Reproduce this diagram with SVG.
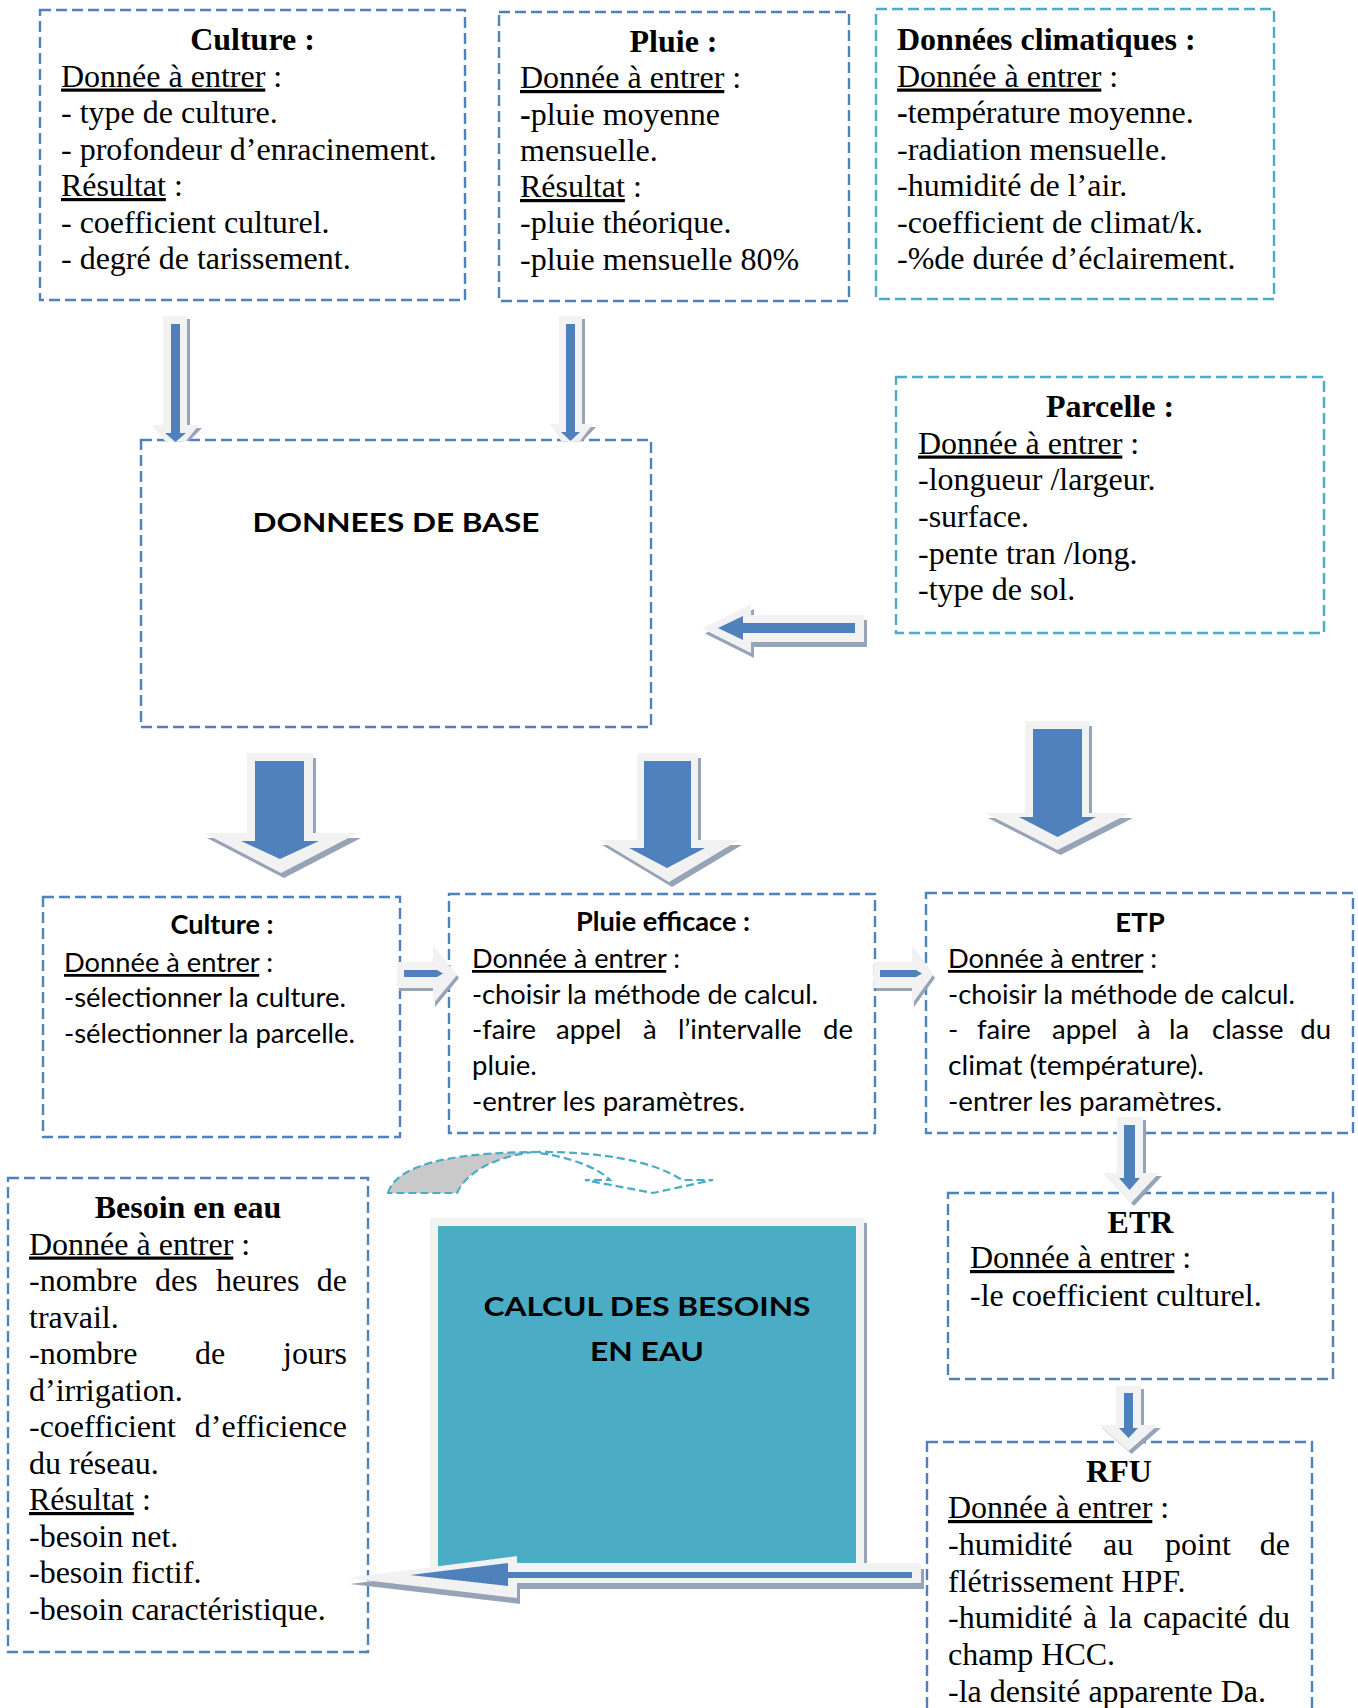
<svg xmlns="http://www.w3.org/2000/svg" width="1358" height="1708" viewBox="0 0 1358 1708">
<defs>
<style>
.box{fill:none;stroke:#4f81bd;stroke-width:2.4;stroke-dasharray:11 5}
.teal{stroke:#4bacc6}
.tr{font-family:"Liberation Serif","Times New Roman",serif;font-size:32px;fill:#000}
.ca{font-family:Lato,"Liberation Sans",sans-serif;font-size:27.5px;fill:#000}
.b{font-weight:bold}
.u{text-decoration:underline}
.mid{text-anchor:middle}
.end{text-anchor:end}
.lt{fill:#f2f2f2}
.bl{fill:#4f81bd}
.sh{fill:#97a3b6}
.curve{stroke:#4bacc6;stroke-width:2.2;stroke-dasharray:8 4}
</style>
</defs>
<rect x="0" y="0" width="1358" height="1708" fill="#ffffff"/>

<g id="culture-input">
<rect class="box" x="40" y="10" width="425" height="290"/>
<text class="tr b mid" x="252.5" y="50">Culture :</text>
<text class="tr" x="61" y="86.5"><tspan class="u">Donnée à entrer</tspan> :</text>
<text class="tr" x="61" y="123">- type de culture.</text>
<text class="tr" x="61" y="159.5">- profondeur d’enracinement.</text>
<text class="tr" x="61" y="196"><tspan class="u">Résultat</tspan> :</text>
<text class="tr" x="61" y="232.5">- coefficient culturel.</text>
<text class="tr" x="61" y="269">- degré de tarissement.</text>
</g>

<g id="pluie-input">
<rect class="box" x="499" y="12" width="350" height="289"/>
<text class="tr b mid" x="673.5" y="52">Pluie :</text>
<text class="tr" x="520" y="88"><tspan class="u">Donnée à entrer</tspan> :</text>
<text class="tr" x="520" y="124.5"><tspan class="b">-</tspan>pluie moyenne</text>
<text class="tr" x="520" y="160.5">mensuelle.</text>
<text class="tr" x="520" y="197"><tspan class="u">Résultat</tspan> :</text>
<text class="tr" x="520" y="233">-pluie théorique.</text>
<text class="tr" x="520" y="269.5">-pluie mensuelle 80%</text>
</g>

<g id="donnees-climatiques">
<rect class="box teal" x="876" y="9" width="398" height="290"/>
<text class="tr b" x="897" y="50">Données climatiques :</text>
<text class="tr" x="897" y="86.5"><tspan class="u">Donnée à entrer</tspan> :</text>
<text class="tr" x="897" y="123"><tspan class="b">-</tspan>température moyenne.</text>
<text class="tr" x="897" y="159.5">-radiation mensuelle.</text>
<text class="tr" x="897" y="196">-humidité de l’air.</text>
<text class="tr" x="897" y="232.5">-coefficient de climat/k.</text>
<text class="tr" x="897" y="269">-%de durée d’éclairement.</text>
</g>

<g id="donnees-de-base">
<rect class="box" x="141" y="440" width="510" height="287"/>
<text class="ca b mid" x="396" y="532" font-size="33" textLength="287" lengthAdjust="spacingAndGlyphs">DONNEES DE BASE</text>
</g>

<g id="parcelle">
<rect class="box teal" x="896" y="377" width="428" height="256"/>
<text class="tr b mid" x="1110" y="417">Parcelle :</text>
<text class="tr" x="918" y="453.5"><tspan class="u">Donnée à entrer</tspan> :</text>
<text class="tr" x="918" y="490">-longueur /largeur.</text>
<text class="tr" x="918" y="527">-surface.</text>
<text class="tr" x="918" y="563.5">-pente tran /long.</text>
<text class="tr" x="918" y="600">-type de sol.</text>
</g>

<g id="culture-selection">
<rect class="box" x="43" y="897" width="357" height="240"/>
<text class="ca b mid" x="222" y="934" textLength="103" lengthAdjust="spacingAndGlyphs">Culture :</text>
<text class="ca" x="64" y="972" textLength="209" lengthAdjust="spacingAndGlyphs"><tspan class="u">Donnée à entrer</tspan> :</text>
<text class="ca" x="64" y="1007" textLength="282" lengthAdjust="spacingAndGlyphs">-sélectionner la culture.</text>
<text class="ca" x="64" y="1043" textLength="291" lengthAdjust="spacingAndGlyphs">-sélectionner la parcelle.</text>
</g>

<g id="pluie-efficace">
<rect class="box" x="449" y="894" width="426" height="239"/>
<text class="ca b mid" x="663" y="931" textLength="174" lengthAdjust="spacingAndGlyphs">Pluie efficace :</text>
<text class="ca" x="472" y="968" textLength="208" lengthAdjust="spacingAndGlyphs"><tspan class="u">Donnée à entrer</tspan> :</text>
<text class="ca" x="472" y="1003.5" textLength="346" lengthAdjust="spacingAndGlyphs">-choisir la méthode de calcul.</text>
<text class="ca" y="1039"><tspan x="472">-faire</tspan><tspan x="556">appel</tspan><tspan x="643">à</tspan><tspan x="678">l’intervalle</tspan></text>
<text class="ca end" x="853" y="1039">de</text>
<text class="ca" x="472" y="1075">pluie.</text>
<text class="ca" x="472" y="1110.5" textLength="273" lengthAdjust="spacingAndGlyphs">-entrer les paramètres.</text>
</g>

<g id="etp">
<rect class="box" x="926" y="893" width="427" height="240"/>
<text class="ca b mid" x="1140" y="932">ETP</text>
<text class="ca" x="948" y="968" textLength="209" lengthAdjust="spacingAndGlyphs"><tspan class="u">Donnée à entrer</tspan> :</text>
<text class="ca" x="948" y="1003.5" textLength="347" lengthAdjust="spacingAndGlyphs">-choisir la méthode de calcul.</text>
<text class="ca" y="1039"><tspan x="948">-</tspan><tspan x="977">faire</tspan><tspan x="1052">appel</tspan><tspan x="1137">à</tspan><tspan x="1169">la</tspan><tspan x="1212">classe</tspan></text>
<text class="ca end" x="1331" y="1039">du</text>
<text class="ca" x="948" y="1075" textLength="256" lengthAdjust="spacingAndGlyphs">climat (température).</text>
<text class="ca" x="948" y="1110.5" textLength="274" lengthAdjust="spacingAndGlyphs">-entrer les paramètres.</text>
</g>

<g id="besoin-en-eau">
<rect class="box" x="8" y="1178" width="360" height="474"/>
<text class="tr b mid" x="188" y="1218">Besoin en eau</text>
<text class="tr" x="29" y="1254.5"><tspan class="u">Donnée à entrer</tspan> :</text>
<text class="tr" y="1291"><tspan x="29">-nombre</tspan><tspan x="155">des</tspan><tspan x="216">heures</tspan></text>
<text class="tr end" x="347" y="1291">de</text>
<text class="tr" x="29" y="1327.5">travail.</text>
<text class="tr" y="1364"><tspan x="29">-nombre</tspan><tspan x="195">de</tspan></text>
<text class="tr end" x="347" y="1364">jours</text>
<text class="tr" x="29" y="1400.5">d’irrigation.</text>
<text class="tr" x="29" y="1437">-coefficient</text>
<text class="tr end" x="347" y="1437">d’efficience</text>
<text class="tr" x="29" y="1473.5">du réseau.</text>
<text class="tr" x="29" y="1510"><tspan class="u">Résultat</tspan> :</text>
<text class="tr" x="29" y="1546.5">-besoin net.</text>
<text class="tr" x="29" y="1583">-besoin fictif.</text>
<text class="tr" x="29" y="1619.5">-besoin caractéristique.</text>
</g>

<g id="calcul-besoins">
<rect x="433" y="1223" width="434" height="347" fill="#97a3b6"/>
<rect x="430" y="1218" width="434" height="350" fill="#f2f2f2"/>
<rect x="438" y="1226" width="418" height="340" fill="#4bacc6"/>
<text class="ca b mid" x="647" y="1316" font-size="32" textLength="327" lengthAdjust="spacingAndGlyphs">CALCUL DES BESOINS</text>
<text class="ca b mid" x="647" y="1361" font-size="32" textLength="114" lengthAdjust="spacingAndGlyphs">EN EAU</text>
</g>

<g id="etr">
<rect class="box" x="948" y="1193" width="385" height="186"/>
<text class="tr b mid" x="1140.5" y="1233">ETR</text>
<text class="tr" x="970" y="1268"><tspan class="u">Donnée à entrer</tspan> :</text>
<text class="tr" x="970" y="1306">-le coefficient culturel.</text>
</g>

<g id="rfu">
<rect class="box" x="927" y="1442" width="385" height="300"/>
<text class="tr b mid" x="1119" y="1482">RFU</text>
<text class="tr" x="948" y="1518"><tspan class="u">Donnée à entrer</tspan> :</text>
<text class="tr" y="1555"><tspan x="948">-humidité</tspan><tspan x="1103">au</tspan><tspan x="1165">point</tspan></text>
<text class="tr end" x="1290" y="1555">de</text>
<text class="tr" x="948" y="1592">flétrissement HPF.</text>
<text class="tr" y="1628"><tspan x="948">-humidité</tspan><tspan x="1083">à</tspan><tspan x="1109">la</tspan><tspan x="1143">capacité</tspan></text>
<text class="tr end" x="1290" y="1628">du</text>
<text class="tr" x="948" y="1665">champ HCC.</text>
<text class="tr" x="948" y="1702">-la densité apparente Da.</text>
</g>

<g id="connectors">
<!-- Culture -> Donnees de base -->
<g>
<polygon class="sh" points="166,319 190,319 190,428 202,428 189,441 168,441 155,428 166,428"/>
<polygon class="lt" points="163,316 187,316 187,425 199,425 186,441 165,441 152,425 163,425"/>
<polygon class="bl" points="171,324 180,324 180,433 186,433 175.5,442 165,433 171,433"/>
</g>
<!-- Pluie -> Donnees de base -->
<g>
<polygon class="sh" points="562,319 585,319 585,427 596,427 583,441 564,441 553,427 562,427"/>
<polygon class="lt" points="559,316 582,316 582,424 593,424 580,441 561,441 550,424 559,424"/>
<polygon class="bl" points="566,324 575,324 575,432 580,432 570.5,441 561,432 566,432"/>
</g>
<!-- Parcelle -> Donnees de base -->
<g>
<polygon class="sh" points="705,633.5 754,609 754,620 867,620 867,647 754,647 754,658"/>
<polygon class="lt" points="702,628.5 751,604 751,615 864,615 864,642 751,642 751,653"/>
<polygon class="bl" points="718,628 743,616 743,623 855,623 855,633 743,633 743,640"/>
</g>
<!-- Donnees de base -> Culture -->
<g>
<polygon class="sh" points="250,758 316,758 316,838 361,838 284,878 207,838 250,838"/>
<polygon class="lt" points="247,753 313,753 313,833 358,833 281,873 204,833 247,833"/>
<polygon class="bl" points="255,761 304,761 304,841 319,841 280,859 241,841 255,841"/>
</g>
<!-- Donnees de base -> Pluie efficace -->
<g>
<polygon class="sh" points="640,758 701,758 701,845 742,845 672,887 602,845 640,845"/>
<polygon class="lt" points="637,753 698,753 698,840 739,840 669,882 599,840 637,840"/>
<polygon class="bl" points="644,761 691,761 691,848 705,848 667,868 629,848 644,848"/>
</g>
<!-- Parcelle -> ETP -->
<g>
<polygon class="sh" points="1028,726 1092,726 1092,818 1133,818 1060.5,855 988,818 1028,818"/>
<polygon class="lt" points="1025,721 1089,721 1089,813 1130,813 1057.5,850 985,813 1025,813"/>
<polygon class="bl" points="1033,729 1082,729 1082,817 1096,817 1057.5,837 1019,817 1033,817"/>
</g>
<!-- Culture -> Pluie efficace -->
<g>
<polygon class="sh" points="399,965 435,965 435,949 459,978 435,1007 435,991 399,991"/>
<polygon class="lt" points="397,962 433,962 433,946 457,975 433,1004 433,988 397,988"/>
<polygon class="bl" points="404,970 437,970 443,973.5 437,977 404,977"/>
</g>
<!-- Pluie efficace -> ETP -->
<g>
<polygon class="sh" points="876,965 914,965 914,949 935,978 914,1007 914,991 876,991"/>
<polygon class="lt" points="874,962 912,962 912,946 933,975 912,1004 912,988 874,988"/>
<polygon class="bl" points="880,970 916,970 922,973.5 916,977 880,977"/>
</g>
<!-- ETP -> ETR -->
<g>
<polygon class="sh" points="1120,1120 1146,1120 1146,1176 1162,1176 1134,1206 1106,1176 1120,1176"/>
<polygon class="lt" points="1117,1117 1143,1117 1143,1173 1159,1173 1131,1203 1103,1173 1117,1173"/>
<polygon class="bl" points="1124,1125 1135,1125 1135,1178 1140,1178 1129.5,1190 1119,1178 1124,1178"/>
</g>
<!-- ETR -> RFU -->
<g>
<polygon class="sh" points="1119,1389 1144,1389 1144,1428 1161,1428 1131.5,1454 1102,1428 1119,1428"/>
<polygon class="lt" points="1116,1386 1141,1386 1141,1425 1158,1425 1128.5,1451 1099,1425 1116,1425"/>
<polygon class="bl" points="1124,1393 1133,1393 1133,1428 1138,1428 1128.5,1438 1119,1428 1124,1428"/>
</g>
<!-- RFU -> Besoin en eau -->
<g>
<polygon class="sh" points="350,1584 520,1562 520,1569 924,1569 924,1589 520,1589 520,1604"/>
<polygon class="lt" points="347,1578 517,1556 517,1563 921,1563 921,1583 517,1583 517,1598"/>
<polygon class="bl" points="410,1575 508,1563 508,1572 912,1572 912,1578 508,1578 508,1586"/>
</g>
<!-- curved arrow -->
<g>
<path class="curve" fill="#c9c9c9" d="M388,1193 C395,1168 440,1153 533,1152 C500,1156 467,1170 457,1193 Z"/>
<path class="curve" fill="none" d="M533,1152 C595,1151 652,1160 682,1180 L713,1180 L653,1193 L585,1180 L610,1180 C597,1167 570,1157 533,1152"/>
</g>
</g>
</svg>
